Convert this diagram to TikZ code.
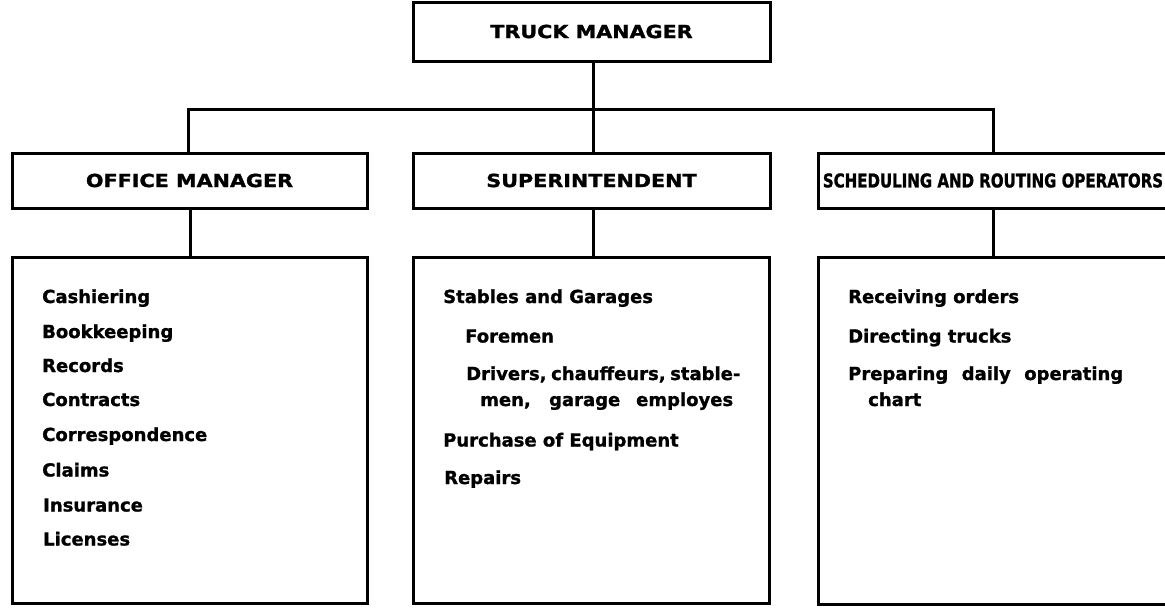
\documentclass[tikz,border=0pt]{standalone}
\usepackage{fontspec}
\setmainfont{DejaVu Sans}[FakeBold=1.2]
\newfontfamily\hdfont{DejaVu Sans}[FakeStretch=1.15,FakeBold=1.5]
\newfontfamily\condfont{DejaVu Sans}[FakeStretch=0.79,FakeBold=1.2]
\begin{document}
\begin{tikzpicture}[x=1pt,y=-1pt,
  boxline/.style={draw=black,line width=3pt},
  hdbox/.style={boxline,rectangle,inner sep=0pt,font=\hdfont\bfseries\fontsize{18}{20}\selectfont},
  conn/.style={draw=black,line width=3pt},
  item/.style={anchor=base west,inner sep=0pt,font=\bfseries\fontsize{18}{20}\selectfont}
]
\useasboundingbox (0,0) rectangle (1165,613);
% header boxes
\node[hdbox,minimum width=357pt,minimum height=59pt] (truck) at (591.5,31.5) {TRUCK MANAGER};
\node[hdbox,minimum width=355pt,minimum height=55pt] (office) at (189.5,180.5) {OFFICE MANAGER};
\node[hdbox,minimum width=357pt,minimum height=55pt] (super) at (591.5,180.5) {SUPERINTENDENT};
\node[boxline,rectangle,inner sep=0pt,minimum width=370pt,minimum height=55pt] (sched) at (1003,180.5) {};
\node[inner sep=0pt,font=\condfont\bfseries\fontsize{19}{20}\selectfont] (schedtxt) at (993,180.5) {SCHEDULING AND ROUTING OPERATORS};
% content boxes
\node[boxline,rectangle,inner sep=0pt,minimum width=355pt,minimum height=346pt] (ocont) at (189.5,430) {};
\node[boxline,rectangle,inner sep=0pt,minimum width=356pt,minimum height=346pt] (scont) at (591,430) {};
\node[boxline,rectangle,inner sep=0pt,minimum width=370pt,minimum height=347pt] (rcont) at (1003,430.5) {};
% connectors
\coordinate (lx) at (188,109);
\coordinate (mx) at (593,109);
\coordinate (rx) at (993,109);
\draw[conn] (truck.south -| mx) -- (super.north -| mx);
\draw[conn] (office.north -| lx) -- (lx) -- (rx) -- (sched.north -| rx);
\coordinate (ox) at (190,0);
\draw[conn] (office.south -| ox) -- (ocont.north -| ox);
\draw[conn] (super.south -| mx) -- (scont.north -| mx);
\draw[conn] (sched.south -| rx) -- (rcont.north -| rx);
% office items
\node[item] (o1) at (42,303) {Cashiering};
\node[item] (o2) at (42,338) {Bookkeeping};
\node[item] (o3) at (42,372) {Records};
\node[item] (o4) at (42,406) {Contracts};
\node[item] (o5) at (42,441) {Correspondence};
\node[item] (o6) at (42,476.5) {Claims};
\node[item] (o7) at (43,511.5) {Insurance};
\node[item] (o8) at (43,545.5) {Licenses};
% superintendent items
\node[item] (s1) at (443,303) {Stables and Garages};
\node[item] (s2) at (465,342.5) {Foremen};
\node[item] (s3) at (466,380) {\makebox[272pt][s]{Drivers, chauffeurs, stable-}};
\node[item] (s4) at (480,406) {\makebox[253pt][s]{men, garage employes}};
\node[item] (s5) at (443,446.5) {Purchase of Equipment};
\node[item] (s6) at (444,484) {Repairs};
% scheduling items
\node[item] (r1) at (848,303) {Receiving orders};
\node[item] (r2) at (848,342.5) {Directing trucks};
\node[item] (r3) at (848,380) {\makebox[275pt][s]{Preparing daily operating}};
\node[item] (r4) at (868,406) {chart};
\end{tikzpicture}
\end{document}
